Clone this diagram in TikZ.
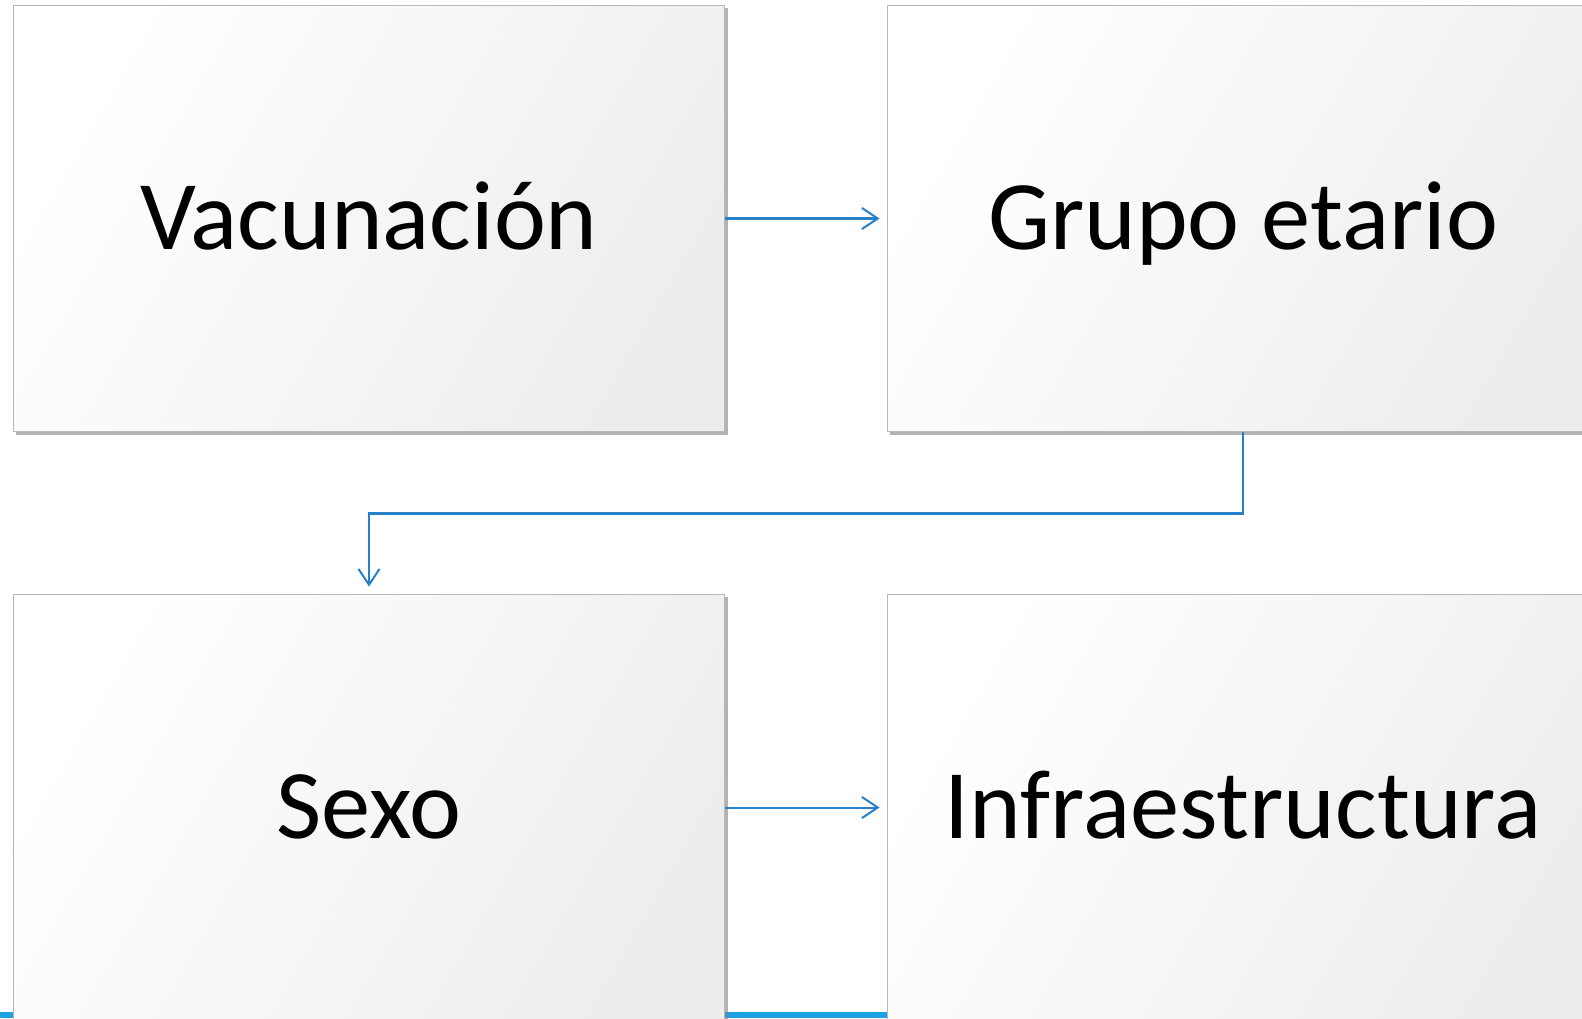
\documentclass[tikz,border=0pt]{standalone}
\usepackage{fontspec}
\setmainfont{Carlito}
\usetikzlibrary{shadows,arrows.meta}
\definecolor{linkblue}{RGB}{40,128,200}
\definecolor{stripblue}{RGB}{29,161,226}

\begin{document}
\begin{tikzpicture}[x=0.02cm,y=-0.02cm]
   \useasboundingbox (0,0) rectangle (1582,1018);
   \clip (0,0) rectangle (1582,1018);
   \fill[stripblue] (0,1012) rectangle (1582,1018);
   \begin{scope}[every node/.style={rectangle,draw=black!28,line width=0.6pt,
       minimum width=14.24cm,minimum height=8.54cm,inner sep=0pt,
       text height=1.56cm,text depth=0.32cm,
       left color=white,right color=black!7,shading angle=60,
       drop shadow={shadow xshift=0.06cm,shadow yshift=-0.06cm,opacity=0.6,fill=black!50},
       font=\fontsize{56}{60}\selectfont}]
    \node (vac) at (369,218.5) {Vacunación};
    \node (grupo) at (1243,218.5) {Grupo etario};
    \node (sexo) at (369,807.5) {Sexo};
    \node (infra) at (1243,807.5) {Infraestructura};
   \end{scope}
   \begin{scope}[every path/.style={draw=linkblue,line width=1.15pt,
       -{Straight Barb[length=9pt,width=12pt,line width=1.15pt]},shorten >=0.14cm}]
    \draw (vac.east) -- (grupo.west);
    \draw (grupo.south) -- ++(0,81) -| (sexo.north);
    \draw (sexo.east) -- (infra.west);
   \end{scope}
\end{tikzpicture}
\end{document}
